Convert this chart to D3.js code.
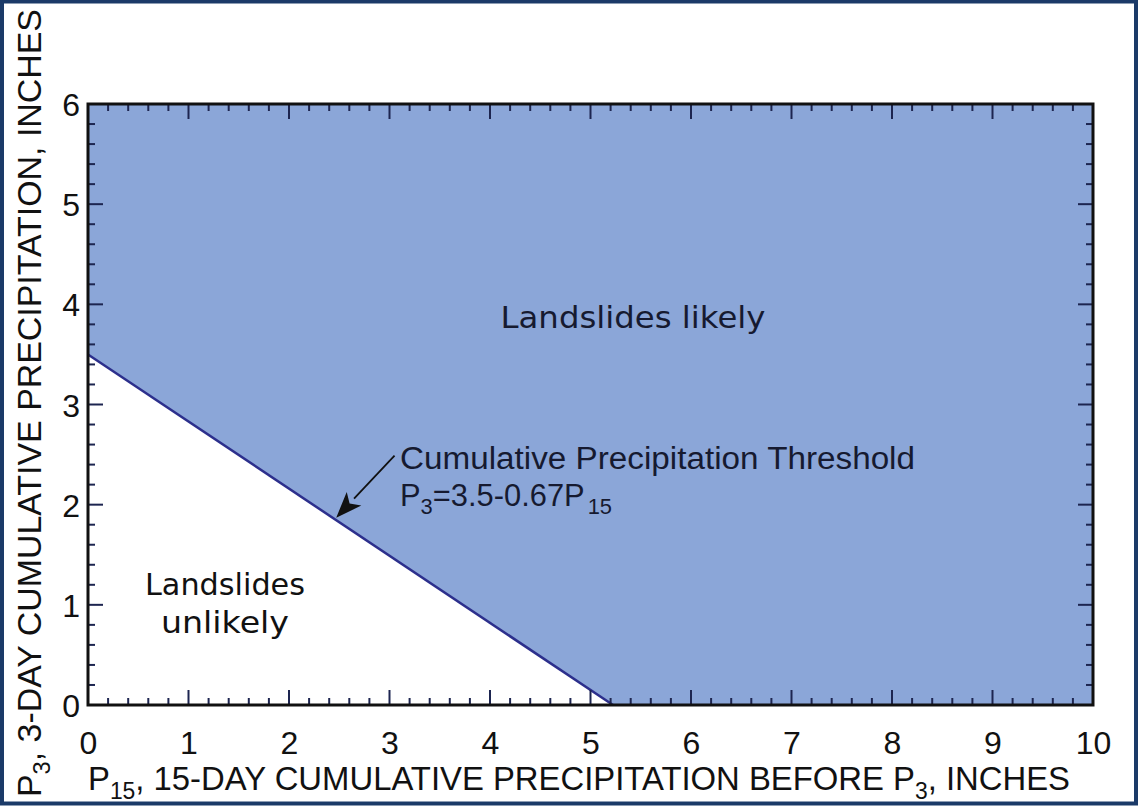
<!DOCTYPE html>
<html><head><meta charset="utf-8">
<script src="https://cdn.jsdelivr.net/npm/d3@7"></script>
<style>
html,body{margin:0;padding:0;background:#fff;}
svg{display:block;}
</style></head>
<body>
<svg id="chart" width="1139" height="807"></svg>
<script>
// ---- data ----
const xTickValues = [0,1,2,3,4,5,6,7,8,9,10];
const yTickValues = [0,1,2,3,4,5,6];
const thresholdP15 = [0, 5.224];   // x where threshold crosses
const thresholdP3  = [3.5, 0];     // P3 = 3.5 - 0.67 P15
const xDomain = [0, 10];
const yDomain = [0, 6];
const arrowFrom = [3.05, 2.49];
const arrowTo   = [2.47, 1.87];

const svg = d3.select("#chart");
const W = 1139, H = 807;
const m = {left: 88, right: 1093, top: 104, bottom: 705};
const x = d3.scaleLinear().domain(xDomain).range([m.left, m.right]);
const y = d3.scaleLinear().domain(yDomain).range([m.bottom, m.top]);

const HELV = "'Liberation Sans', Arial, Helvetica, sans-serif";
const LUC = "'DejaVu Sans', Verdana, sans-serif";

// outer frame
svg.append("rect").attr("x",2).attr("y",1.5).attr("width",W-5).attr("height",H-5)
  .attr("fill","#fff").attr("stroke","#1b3a68").attr("stroke-width",4);

// filled "likely" region
const poly = [
  [thresholdP15[0], thresholdP3[0]],
  [thresholdP15[1], thresholdP3[1]],
  [xDomain[1], yDomain[0]],
  [xDomain[1], yDomain[1]],
  [xDomain[0], yDomain[1]]
];
svg.append("path")
  .attr("d", d3.line().x(d=>x(d[0])).y(d=>y(d[1]))(poly) + "Z")
  .attr("fill", "#8ba6d8");

// threshold line
svg.append("path")
  .attr("d", d3.line().x((d,i)=>x(thresholdP15[i])).y((d,i)=>y(thresholdP3[i]))(thresholdP15))
  .attr("fill","none").attr("stroke","#2c2f8c").attr("stroke-width",2.5);

// ticks (inward, on all four sides)
const tickColor = "#1d2550";
const g = svg.append("g");
const xMinor = d3.range(0, 10.001, 0.2);
const yMinor = d3.range(0, 6.001, 0.2);
function isMajor(v){ return Math.abs(v - Math.round(v)) < 1e-6; }
xMinor.forEach(v=>{
  const L = isMajor(v) ? 15 : 7;
  g.append("line").attr("x1",x(v)).attr("x2",x(v)).attr("y1",y(0)).attr("y2",y(0)-L)
    .attr("stroke",tickColor).attr("stroke-width",2);
  g.append("line").attr("x1",x(v)).attr("x2",x(v)).attr("y1",y(6)).attr("y2",y(6)+L)
    .attr("stroke",tickColor).attr("stroke-width",2);
});
yMinor.forEach(v=>{
  const L = isMajor(v) ? 15 : 7;
  g.append("line").attr("y1",y(v)).attr("y2",y(v)).attr("x1",x(0)).attr("x2",x(0)+L)
    .attr("stroke",tickColor).attr("stroke-width",2);
  g.append("line").attr("y1",y(v)).attr("y2",y(v)).attr("x1",x(10)).attr("x2",x(10)-L)
    .attr("stroke",tickColor).attr("stroke-width",2);
});

// plot frame
svg.append("rect").attr("x",m.left).attr("y",m.top)
  .attr("width",m.right-m.left).attr("height",m.bottom-m.top)
  .attr("fill","none").attr("stroke","#111").attr("stroke-width",3);

// tick labels via d3 axes (no lines)
const xAxis = svg.append("g").attr("transform",`translate(0,${m.bottom})`)
  .call(d3.axisBottom(x).tickValues(xTickValues).tickFormat(d3.format("d")).tickSize(0).tickPadding(49));
const yAxis = svg.append("g").attr("transform",`translate(${m.left},0)`)
  .call(d3.axisLeft(y).tickValues(yTickValues).tickFormat(d3.format("d")).tickSize(0).tickPadding(8));
[xAxis,yAxis].forEach(a=>{
  a.select(".domain").remove();
  a.selectAll("text").attr("font-family",HELV).attr("font-size",32).attr("fill","#111");
});
xAxis.selectAll("text").attr("dy","0");
yAxis.selectAll("text").attr("dy","0.36em");

// axis titles
const xt = svg.append("text").attr("x",m.left).attr("y",790)
  .attr("font-family",HELV).attr("font-size",33).attr("fill","#111")
  .attr("textLength",982).attr("lengthAdjust","spacingAndGlyphs");
xt.append("tspan").text("P");
xt.append("tspan").attr("font-size",23).attr("dy",9).text("15");
xt.append("tspan").attr("dy",-9).text(", 15-DAY CUMULATIVE PRECIPITATION BEFORE P");
xt.append("tspan").attr("font-size",23).attr("dy",9).text("3");
xt.append("tspan").attr("dy",-9).text(", INCHES");

const yt = svg.append("text").attr("transform","translate(41,797) rotate(-90)")
  .attr("font-family",HELV).attr("font-size",33).attr("fill","#111")
  .attr("textLength",788).attr("lengthAdjust","spacingAndGlyphs");
yt.append("tspan").text("P");
yt.append("tspan").attr("font-size",23).attr("dy",9).text("3");
yt.append("tspan").attr("dy",-9).text(", 3-DAY CUMULATIVE PRECIPITATION, INCHES");

// region labels
svg.append("text").attr("x",633).attr("y",328).attr("text-anchor","middle")
  .attr("font-family",LUC).attr("font-size",31).attr("fill","#161a30")
  .attr("textLength",265).attr("lengthAdjust","spacingAndGlyphs").text("Landslides likely");
svg.append("text").attr("x",225).attr("y",595).attr("text-anchor","middle")
  .attr("font-family",LUC).attr("font-size",31).attr("fill","#111")
  .attr("textLength",160).attr("lengthAdjust","spacingAndGlyphs").text("Landslides");
svg.append("text").attr("x",225).attr("y",633).attr("text-anchor","middle")
  .attr("font-family",LUC).attr("font-size",31).attr("fill","#111")
  .attr("textLength",128).attr("lengthAdjust","spacingAndGlyphs").text("unlikely");

// annotation
svg.append("text").attr("x",400).attr("y",469)
  .attr("font-family",HELV).attr("font-size",31).attr("fill","#161a30")
  .attr("textLength",515).attr("lengthAdjust","spacingAndGlyphs")
  .text("Cumulative Precipitation Threshold");
const eq = svg.append("text").attr("x",400).attr("y",506)
  .attr("font-family",HELV).attr("font-size",31).attr("fill","#161a30")
  .attr("textLength",212).attr("lengthAdjust","spacingAndGlyphs");
eq.append("tspan").text("P");
eq.append("tspan").attr("font-size",22).attr("dy",8).text("3");
eq.append("tspan").attr("dy",-8).text("=3.5-0.67P");
eq.append("tspan").attr("font-size",22).attr("dy",8).attr("dx",3).text("15");

// arrow
const ax1 = x(arrowFrom[0]), ay1 = y(arrowFrom[1]);
const ax2 = x(arrowTo[0]), ay2 = y(arrowTo[1]);
const ang = Math.atan2(ay2-ay1, ax2-ax1);
const hl = 26, hw = 10;
const bx = ax2 - hl*Math.cos(ang), by = ay2 - hl*Math.sin(ang);
svg.append("line").attr("x1",ax1).attr("y1",ay1).attr("x2",bx).attr("y2",by)
  .attr("stroke","#111").attr("stroke-width",1.8);
const px = -Math.sin(ang), py = Math.cos(ang);
svg.append("path")
  .attr("d",`M${ax2},${ay2}L${bx+hw*px},${by+hw*py}L${bx+hl*0.25*Math.cos(ang)},${by+hl*0.25*Math.sin(ang)}L${bx-hw*px},${by-hw*py}Z`)
  .attr("fill","#111");
</script>
</body></html>
